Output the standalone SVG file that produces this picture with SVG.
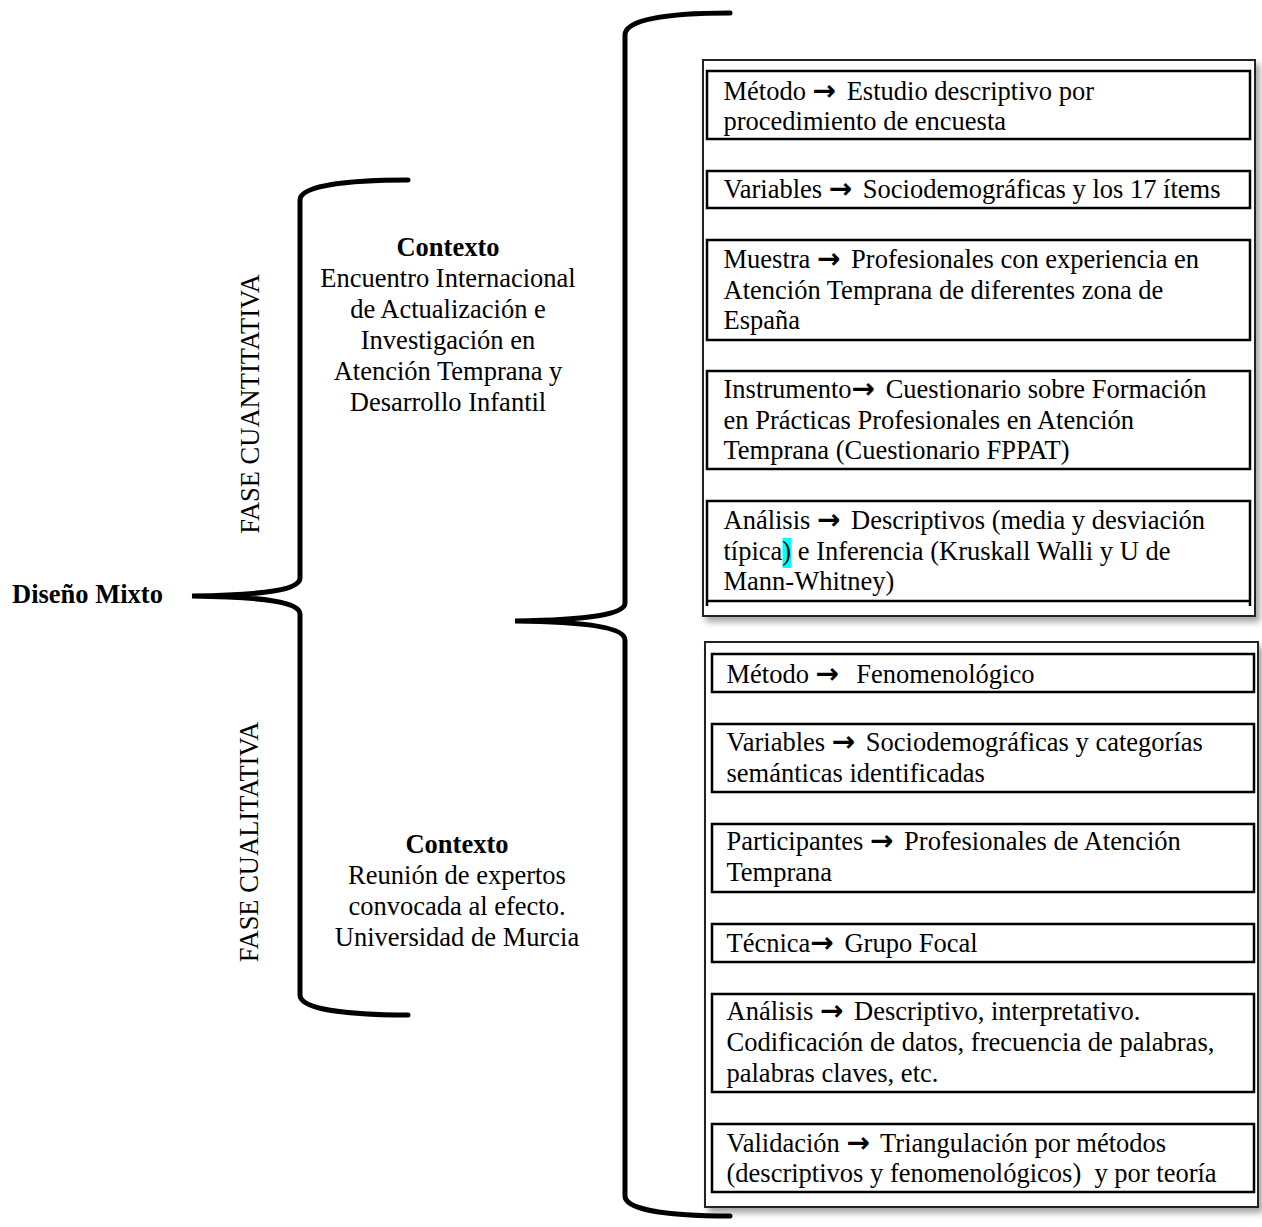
<svg xmlns="http://www.w3.org/2000/svg" width="1262" height="1227" viewBox="0 0 1262 1227">
<defs>
<filter id="shadow" x="-5%" y="-5%" width="115%" height="115%">
<feDropShadow dx="4" dy="5" stdDeviation="3" flood-color="#000" flood-opacity="0.35"/>
</filter>
</defs>
<style>
text { font-family: "Liberation Serif", "Times New Roman", serif; font-size: 26.5px; fill: #000; }
.b { font-weight: bold; }
.arr { font-family: "DejaVu Sans", sans-serif; font-weight: bold; font-size: 28px; letter-spacing: 4px; }
.ctr { text-anchor: middle; }
.outer { fill: #fff; stroke: #222; stroke-width: 2; filter: url(#shadow); }
.inner { fill: none; stroke: #000; stroke-width: 2.5; }
.brace { fill: none; stroke: #000; stroke-width: 5; stroke-linecap: round; }
</style>
<rect width="1262" height="1227" fill="#fff"/>

<g id="connectors">
<path class="brace" d="M408,180 C345,180 300,186 300,200 L300,578 C300,590 265,595 192,596 C265,597 300,602 300,614 L300,995 C300,1009 345,1015 408,1015"/>
<path class="brace" d="M730,13 C665,13 625,20 625,35 L625,603 C625,614 590,620 515,621 C590,622 625,628 625,640 L625,1196 C625,1209 665,1216 730,1216"/>
</g>

<g id="diseno-mixto">
<text class="b" x="12" y="603">Diseño Mixto</text>
</g>

<g id="fase-cuantitativa">
<text class="ctr" transform="translate(259,404) rotate(-90)">FASE CUANTITATIVA</text>
</g>

<g id="fase-cualitativa">
<text class="ctr" transform="translate(258,842) rotate(-90)">FASE CUALITATIVA</text>
</g>

<g id="contexto-cuantitativa">
<text class="ctr b" x="448" y="256">Contexto</text>
<text class="ctr" x="448" y="287">Encuentro Internacional</text>
<text class="ctr" x="448" y="318">de Actualización e</text>
<text class="ctr" x="448" y="349">Investigación en</text>
<text class="ctr" x="448" y="380">Atención Temprana y</text>
<text class="ctr" x="448" y="411">Desarrollo Infantil</text>
</g>

<g id="contexto-cualitativa">
<text class="ctr b" x="457" y="853">Contexto</text>
<text class="ctr" x="457" y="884">Reunión de expertos</text>
<text class="ctr" x="457" y="915">convocada al efecto.</text>
<text class="ctr" x="457" y="946">Universidad de Murcia</text>
</g>

<g id="panel-cuantitativa">
<rect class="outer" x="703" y="60" width="552" height="556"/>
<g id="q-metodo">
<rect class="inner" x="707" y="71" width="543" height="68"/>
<text x="723.5" y="100">Método <tspan class="arr">→</tspan> Estudio descriptivo por</text>
<text x="723.5" y="129.5">procedimiento de encuesta</text>
</g>
<g id="q-variables">
<rect class="inner" x="707" y="171" width="543" height="37"/>
<text x="723.5" y="198">Variables <tspan class="arr">→</tspan> Sociodemográficas y los 17 ítems</text>
</g>
<g id="q-muestra">
<rect class="inner" x="707" y="240" width="543" height="100"/>
<text x="723.5" y="268">Muestra <tspan class="arr">→</tspan> Profesionales con experiencia en</text>
<text x="723.5" y="298.5">Atención Temprana de diferentes zona de</text>
<text x="723.5" y="329">España</text>
</g>
<g id="q-instrumento">
<rect class="inner" x="707" y="371" width="543" height="98"/>
<text x="723.5" y="398">Instrumento<tspan class="arr">→</tspan> Cuestionario sobre Formación</text>
<text x="723.5" y="428.5">en Prácticas Profesionales en Atención</text>
<text x="723.5" y="459">Temprana (Cuestionario FPPAT)</text>
</g>
<g id="q-analisis">
<path class="inner" d="M707,606 L707,501 L1250,501 L1250,606 M707,601 L1250,601"/>
<rect x="782.5" y="538" width="9" height="30" fill="#00ffff"/>
<text x="723.5" y="529">Análisis <tspan class="arr">→</tspan> Descriptivos (media y desviación</text>
<text x="723.5" y="559.5">típica) e Inferencia (Kruskall Walli y U de</text>
<text x="723.5" y="590">Mann-Whitney)</text>
</g>
</g>

<g id="panel-cualitativa">
<rect class="outer" x="705" y="642" width="553" height="565"/>
<g id="c-metodo">
<rect class="inner" x="712" y="654" width="542" height="38"/>
<text x="726.5" y="683" xml:space="preserve">Método <tspan class="arr">→</tspan>  Fenomenológico</text>
</g>
<g id="c-variables">
<rect class="inner" x="712" y="724" width="542" height="68"/>
<text x="726.5" y="751">Variables <tspan class="arr">→</tspan> Sociodemográficas y categorías</text>
<text x="726.5" y="782">semánticas identificadas</text>
</g>
<g id="c-participantes">
<rect class="inner" x="712" y="824" width="542" height="68"/>
<text x="726.5" y="850">Participantes <tspan class="arr">→</tspan> Profesionales de Atención</text>
<text x="726.5" y="881">Temprana</text>
</g>
<g id="c-tecnica">
<rect class="inner" x="712" y="924" width="542" height="38"/>
<text x="726.5" y="952">Técnica<tspan class="arr">→</tspan> Grupo Focal</text>
</g>
<g id="c-analisis">
<rect class="inner" x="712" y="994" width="542" height="98"/>
<text x="726.5" y="1020">Análisis <tspan class="arr">→</tspan> Descriptivo, interpretativo.</text>
<text x="726.5" y="1051">Codificación de datos, frecuencia de palabras,</text>
<text x="726.5" y="1082">palabras claves, etc.</text>
</g>
<g id="c-validacion">
<rect class="inner" x="712" y="1124" width="542" height="68"/>
<text x="726.5" y="1152">Validación <tspan class="arr">→</tspan> Triangulación por métodos</text>
<text x="726.5" y="1182" xml:space="preserve">(descriptivos y fenomenológicos)  y por teoría</text>
</g>
</g>
</svg>
